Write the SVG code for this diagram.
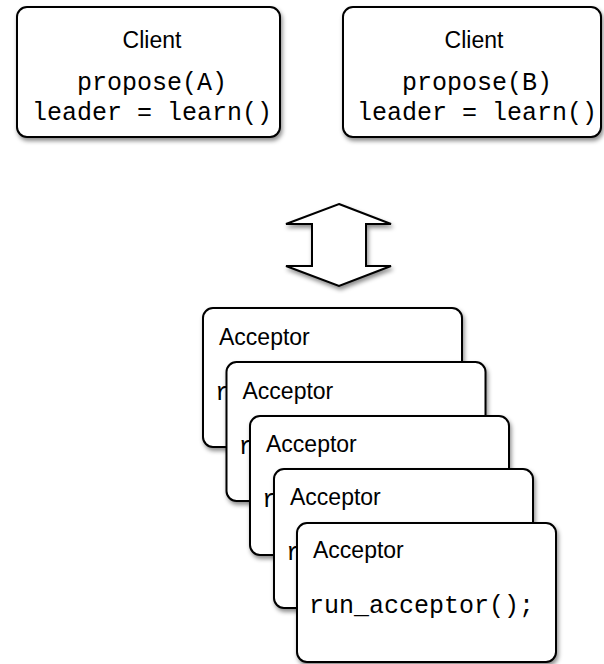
<svg xmlns="http://www.w3.org/2000/svg" width="604" height="664" viewBox="0 0 604 664">
  <defs>
    <filter id="shadow" x="-10%" y="-10%" width="125%" height="130%">
      <feDropShadow dx="1.5" dy="3" stdDeviation="2" flood-color="#000" flood-opacity="0.45"/>
    </filter>
  </defs>
  <style>
    .box { fill: #fff; stroke: #000; stroke-width: 2; filter: url(#shadow); }
    .title { font-family: "Liberation Sans", Arial, sans-serif; font-size: 23px; fill: #000; }
    .code { font-family: "Liberation Mono", "Courier New", monospace; font-size: 25px; fill: #000; }
    .mid { text-anchor: middle; }
  </style>

  <!-- client processes -->
  <g id="client-a">
    <rect class="box" x="17" y="7" width="263" height="130" rx="10"/>
    <text class="title mid" x="152" y="48">Client</text>
    <text class="code mid" x="152" y="90">propose(A)</text>
    <text class="code mid" x="152" y="120">leader = learn()</text>
  </g>
  <g id="client-b">
    <rect class="box" x="343" y="7" width="258" height="130" rx="10"/>
    <text class="title mid" x="474" y="48">Client</text>
    <text class="code mid" x="477" y="90">propose(B)</text>
    <text class="code mid" x="477" y="120">leader = learn()</text>
  </g>

  <!-- two-way exchange between clients and acceptors -->
  <g id="connectors">
    <path class="box" d="M339,204 L391,224 L366,224 L366,266 L391,266 L339,286 L286,266 L312,266 L312,224 L286,224 Z" stroke-linejoin="miter"/>
  </g>

  <!-- stacked acceptor processes -->
  <g id="acceptor-1">
    <rect class="box" x="203" y="308" width="259" height="139" rx="10"/>
    <text class="title" x="219" y="345">Acceptor</text>
    <text class="code" x="215" y="400">run_acceptor();</text>
  </g>
  <g id="acceptor-2">
    <rect class="box" x="226.5" y="362" width="259" height="139" rx="10"/>
    <text class="title" x="242.5" y="399">Acceptor</text>
    <text class="code" x="238.5" y="454">run_acceptor();</text>
  </g>
  <g id="acceptor-3">
    <rect class="box" x="250" y="416" width="259" height="139" rx="10"/>
    <text class="title" x="266" y="452">Acceptor</text>
    <text class="code" x="262" y="507">run_acceptor();</text>
  </g>
  <g id="acceptor-4">
    <rect class="box" x="274" y="469" width="259" height="139" rx="10"/>
    <text class="title" x="290" y="505">Acceptor</text>
    <text class="code" x="286" y="560">run_acceptor();</text>
  </g>
  <g id="acceptor-5">
    <rect class="box" x="297" y="523" width="259" height="139" rx="10"/>
    <text class="title" x="313" y="558">Acceptor</text>
    <text class="code" x="309" y="613">run_acceptor();</text>
  </g>
</svg>
